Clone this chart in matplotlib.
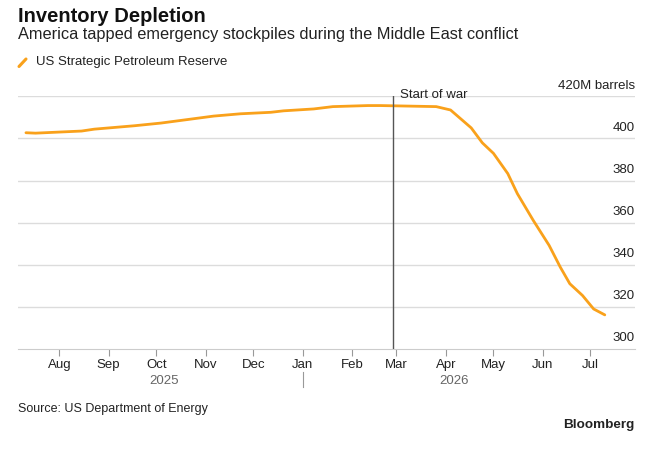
import numpy as np
import pandas as pd
import matplotlib
matplotlib.use("Agg")
import matplotlib.pyplot as plt
import matplotlib.dates as mdates
from matplotlib.lines import Line2D

plt.rcParams['font.family'] = ['Liberation Sans', 'DejaVu Sans']

# Strategic Petroleum Reserve level, million barrels
dates = pd.to_datetime([
    '2025-07-11', '2025-07-17', '2025-08-15', '2025-08-23', '2025-09-17',
    '2025-10-04', '2025-10-21', '2025-11-06', '2025-11-23', '2025-12-12',
    '2025-12-20', '2026-01-08', '2026-01-20', '2026-02-11', '2026-02-19',
    '2026-03-26', '2026-04-04', '2026-04-17', '2026-04-24', '2026-05-01',
    '2026-05-10', '2026-05-16', '2026-05-26', '2026-06-05', '2026-06-12',
    '2026-06-18', '2026-06-26', '2026-07-03', '2026-07-10',
])
reserve = [
    402.7, 402.5, 403.5, 404.4, 406.0,
    407.3, 409.0, 410.6, 411.7, 412.4,
    413.1, 414.0, 415.1, 415.6, 415.6,
    415.1, 413.5, 405.0, 397.9, 392.9,
    383.3, 373.8, 361.1, 349.2, 338.9,
    331.0, 325.4, 319.0, 316.2,
]
war_start = pd.Timestamp('2026-02-27')
y_ticks = [300, 320, 340, 360, 380, 400, 420]
y_labels = ['300', '320', '340', '360', '380', '400', '420M barrels']

orange = '#f9a11b'
grid_c = '#dcdcdc'

fig = plt.figure(figsize=(6.58, 4.49), dpi=100)
ax = fig.add_axes([18 / 658, 100 / 449, 617 / 658, 252.7 / 449])

ax.set_xlim(pd.Timestamp('2025-07-06'), pd.Timestamp('2026-07-29'))
ax.set_ylim(300, 420)

for v in y_ticks[1:]:
    ax.axhline(v, color=grid_c, lw=1, zorder=1)

ax.plot(dates, reserve, color=orange, lw=2, zorder=3, solid_capstyle='round')
ax.plot([war_start, war_start], [300, 420], color='#555555', lw=1, zorder=4)
ax.text(war_start + pd.Timedelta(days=4), 420.6, 'Start of war', fontsize=9.5,
        color='#222222', va='center', ha='left', zorder=5)

# right-side y labels sitting above the gridlines
for v, lab in zip(y_ticks, y_labels):
    ax.text(1.0, v + 2.2, lab, transform=ax.get_yaxis_transform(),
            ha='right', va='bottom', fontsize=9.5, color='#222222')

for s in ['top', 'right', 'left']:
    ax.spines[s].set_visible(False)
ax.spines['bottom'].set_color('#cccccc')
ax.set_yticks([])

ax.xaxis.set_major_locator(mdates.MonthLocator())
ax.xaxis.set_major_formatter(mdates.DateFormatter('%b'))
ax.tick_params(axis='x', length=5, color='#999999', labelsize=9.5,
               labelcolor='#222222', pad=2)

# year labels
ax.text(pd.Timestamp('2025-10-06'), -0.127, '2025', transform=ax.get_xaxis_transform(),
        ha='center', va='center', fontsize=9.5, color='#666666')
ax.text(pd.Timestamp('2026-04-06'), -0.127, '2026', transform=ax.get_xaxis_transform(),
        ha='center', va='center', fontsize=9.5, color='#666666')
ax.plot([pd.Timestamp('2026-01-01')] * 2, [-0.09, -0.15], transform=ax.get_xaxis_transform(),
        color='#999999', lw=0.8, clip_on=False)

fig.text(18 / 658, 1 - 16 / 449, 'Inventory Depletion', fontsize=14.5, fontweight='bold',
         va='center', ha='left', color='#111111')
fig.text(18 / 658, 1 - 35 / 449, 'America tapped emergency stockpiles during the Middle East conflict',
         fontsize=11.8, va='center', ha='left', color='#222222')

fig.add_artist(Line2D([19 / 658, 26 / 658], [1 - 66.5 / 449, 1 - 59 / 449], color=orange,
                      lw=2.2, solid_capstyle='round', transform=fig.transFigure))
fig.text(36 / 658, 1 - 62 / 449, 'US Strategic Petroleum Reserve', fontsize=9.5,
         va='center', ha='left', color='#222222')

fig.text(18 / 658, 1 - 409 / 449, 'Source: US Department of Energy', fontsize=9,
         va='center', ha='left', color='#222222')
fig.text(634 / 658, 1 - 425 / 449, 'Bloomberg', fontsize=9.7, fontweight='bold',
         va='center', ha='right', color='#222222')

fig.savefig('out.png', dpi=100, facecolor='white')
